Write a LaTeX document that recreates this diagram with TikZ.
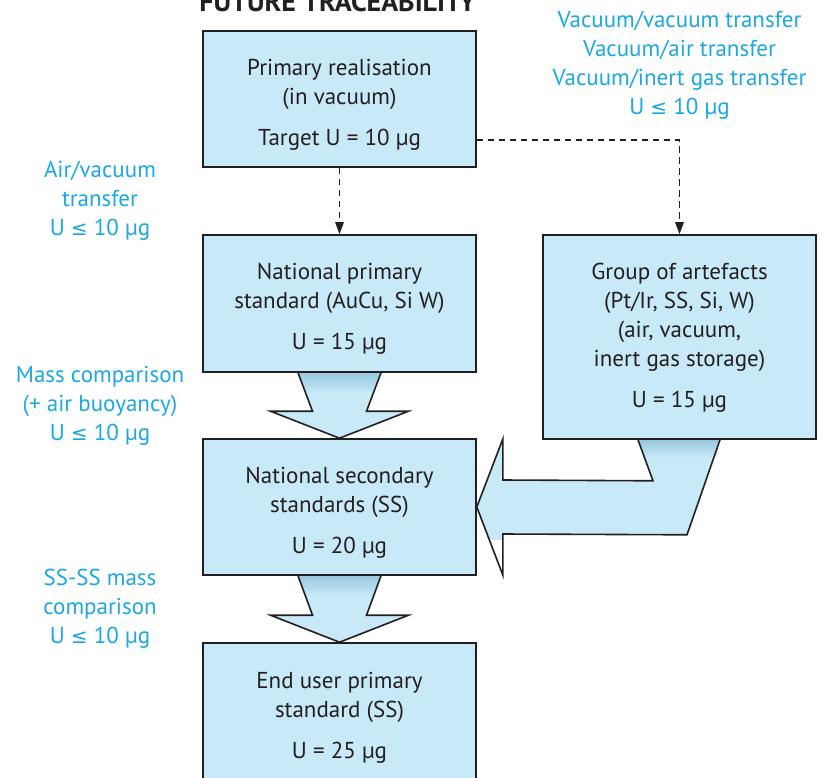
\documentclass[tikz,border=0pt]{standalone}
\usepackage{fontspec}
\setmainfont{PT Sans}
\newfontfamily\dvs{DejaVu Sans}
\usetikzlibrary{arrows.meta,calc}
\definecolor{boxfill}{HTML}{C7E9F8}
\definecolor{boxshade}{HTML}{98C8DE}
\definecolor{lbl}{HTML}{1BA8E1}
\definecolor{ink}{HTML}{231F20}
\newcommand{\mleq}{{\dvs\fontsize{20}{29}\selectfont ≤}}
\pgfdeclarelayer{bg}
\pgfsetlayers{bg,main}
\newcommand{\blockarrow}[2]{%
  \begin{scope}
    \clip ($(#1)+(-41.5,0)$) -- ($(#1)+(41.5,0)$) -- ($(#2)+(27,-27)$) -- ($(#2)+(69,-27)$) -- (#2) -- ($(#2)+(-69,-27)$) -- ($(#2)+(-27,-27)$) -- cycle;
    \fill[boxfill] ($(#1)+(-80,-2)$) rectangle ($(#2)+(80,2)$);
    \shade[top color=boxshade, bottom color=boxfill] ($(#1)+(-60,0)$) rectangle ($(#1)+(60,20)$);
  \end{scope}
  \draw[outl] ($(#1)+(-41.5,0)$) -- ($(#2)+(-27,-27)$) -- ($(#2)+(-69,-27)$) -- (#2) -- ($(#2)+(69,-27)$) -- ($(#2)+(27,-27)$) -- ($(#1)+(41.5,0)$);
}
\begin{document}
\begin{tikzpicture}[x=1pt,y=-1pt,
  font=\fontsize{23}{29}\selectfont,
  box/.style={draw=ink, line width=1.6pt, fill=boxfill, rectangle, minimum width=273pt, inner sep=0pt},
  txt/.style={align=center, text=ink, inner sep=0pt},
  lab/.style={align=center, text=lbl, inner sep=0pt},
  outl/.style={draw=ink, line width=1.6pt, line join=miter},
  dashar/.style={draw=ink, line width=1.4pt, dash pattern=on 6.5pt off 4.5pt, -{Triangle[length=12pt,width=8.5pt]}}]
\useasboundingbox (0,0) rectangle (827,778);
\clip (0,0) rectangle (827,778);

% boxes
\node[box, minimum height=136pt] (b1) at (339.5,99) {};
\node[box, minimum height=137pt] (b2) at (339.5,303.5) {};
\node[box, minimum height=204pt] (b3) at (679.5,337) {};
\node[box, minimum height=136pt] (b4) at (339.5,507) {};
\node[box, minimum height=150pt] (b5) at (339.5,718) {};

% box texts
\node[txt] (t1) at (339.5,105) {Primary realisation\\(in vacuum)\\[12pt]Target U = 10 µg};
\node[txt] (t2) at (339.5,309) {National primary\\standard (AuCu, Si W)\\[12pt]U = 15 µg};
\node[txt] (t3) at (679.5,338) {Group of artefacts\\(Pt/Ir, SS, Si, W)\\(air, vacuum,\\inert gas storage)\\[12pt]U = 15 µg};
\node[txt] (t4) at (339.5,513) {National secondary\\standards (SS)\\[12pt]U = 20 µg};
\node[txt] (t5) at (339.5,718) {End user primary\\standard (SS)\\[12pt]U = 25 µg};

% title
\node[font=\bfseries\fontsize{28}{30}\selectfont, text=ink, anchor=base, inner sep=0pt] (title) at (337.5,12) {FUTURE TRACEABILITY};

% blue labels
\node[lab] (l1) at (100,201) {Air/vacuum\\transfer\\U \mleq{} 10 µg};
\node[lab] (l2) at (100,406) {Mass comparison\\(+ air buoyancy)\\U \mleq{} 10 µg};
\node[lab] (l3) at (100,609) {SS-SS mass\\comparison\\U \mleq{} 10 µg};
\node[lab] (l4) at (679.5,65.5) {Vacuum/vacuum transfer\\Vacuum/air transfer\\Vacuum/inert gas transfer\\U \mleq{} 10 µg};

% dashed connectors
\draw[dashar] (b1.south) -- (b2.north);
\draw[dashar] ([yshift=-41pt]b1.east) -| (b3.north);

% block arrows behind the boxes
\begin{pgfonlayer}{bg}
\blockarrow{b2.south}{b4.north}
\blockarrow{b4.south}{b5.north}
\begin{scope}
  \clip ($(b3.south)+(-41.5,0)$) -- ($(b3.south)+(40.5,0)$) -- ($(b3.south)+(7.5,95)$) -- ($(b4.east)+(26,27)$) -- ($(b4.east)+(26,68)$) -- (b4.east) -- ($(b4.east)+(26,-68)$) -- ($(b4.east)+(26,-27)$) -- ($(b3.south)+(-26.5,41)$) -- cycle;
  \fill[boxfill] ($(b4.east)+(-2,-70)$) rectangle ($(b3.south)+(45,100)$);
  \shade[top color=boxshade, bottom color=boxfill] ($(b3.south)+(-60,0)$) rectangle ($(b3.south)+(60,18)$);
\end{scope}
\draw[outl] ($(b3.south)+(-41.5,0)$) -- ($(b3.south)+(-26.5,41)$) -- ($(b4.east)+(26,-27)$) -- ($(b4.east)+(26,-68)$) -- (b4.east) -- ($(b4.east)+(26,68)$) -- ($(b4.east)+(26,27)$) -- ($(b3.south)+(7.5,95)$) -- ($(b3.south)+(40.5,0)$);
\end{pgfonlayer}
\end{tikzpicture}
\end{document}
